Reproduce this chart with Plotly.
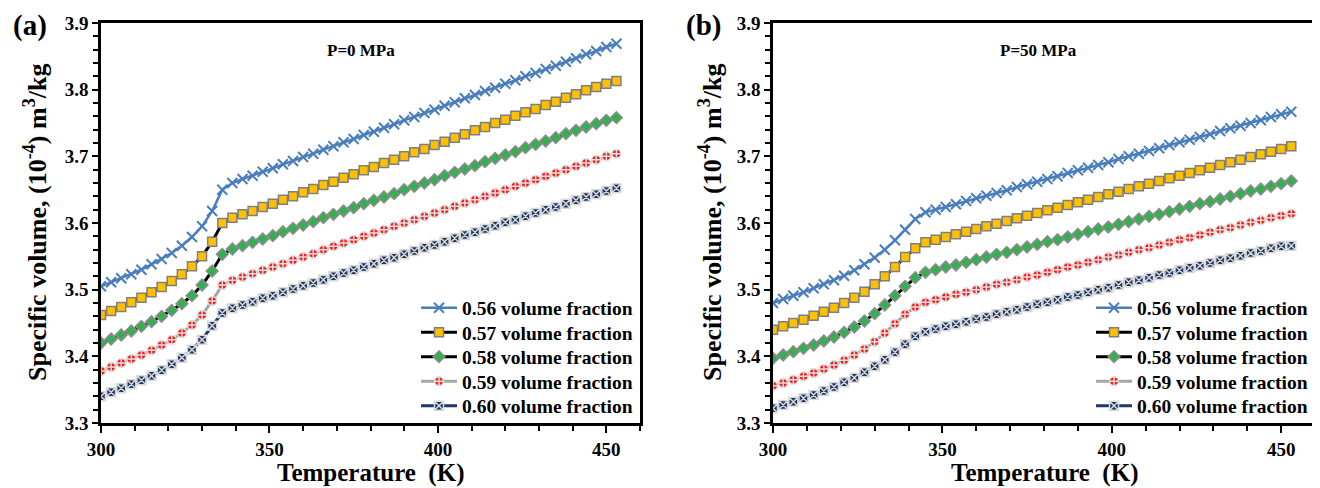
import plotly.graph_objects as go

# ---------------- data ----------------
temperature = [300, 303, 306, 309, 312, 315, 318, 321, 324, 327, 330, 333, 336, 339, 342, 345, 348, 351,
               354, 357, 360, 363, 366, 369, 372, 375, 378, 381, 384, 387, 390, 393, 396, 399, 402, 405,
               408, 411, 414, 417, 420, 423, 426, 429, 432, 435, 438, 441, 444, 447, 450, 453]

series_names = ["0.56 volume fraction", "0.57 volume fraction", "0.58 volume fraction",
                "0.59 volume fraction", "0.60 volume fraction"]

# Panel (a): P = 0 MPa
a_056 = [3.505, 3.511, 3.517, 3.523, 3.530, 3.538, 3.546, 3.555, 3.566, 3.579, 3.595, 3.618, 3.650,
         3.660, 3.666, 3.671, 3.677, 3.682, 3.688, 3.693, 3.699, 3.704, 3.710, 3.715, 3.721, 3.726,
         3.732, 3.737, 3.743, 3.748, 3.754, 3.759, 3.765, 3.770, 3.776, 3.781, 3.787, 3.792, 3.798,
         3.803, 3.809, 3.814, 3.820, 3.825, 3.831, 3.836, 3.842, 3.847, 3.853, 3.858, 3.864, 3.869]
a_057 = [3.462, 3.468, 3.474, 3.481, 3.488, 3.496, 3.504, 3.513, 3.523, 3.535, 3.550, 3.572, 3.600,
         3.608, 3.613, 3.618, 3.624, 3.629, 3.635, 3.640, 3.646, 3.651, 3.657, 3.662, 3.668, 3.673,
         3.679, 3.684, 3.690, 3.695, 3.700, 3.706, 3.711, 3.717, 3.722, 3.728, 3.733, 3.739, 3.744,
         3.750, 3.755, 3.761, 3.766, 3.771, 3.777, 3.782, 3.788, 3.793, 3.799, 3.804, 3.809, 3.813]
a_058 = [3.420, 3.426, 3.432, 3.438, 3.445, 3.452, 3.460, 3.469, 3.479, 3.491, 3.507, 3.528, 3.553,
         3.561, 3.566, 3.571, 3.576, 3.581, 3.587, 3.592, 3.597, 3.602, 3.608, 3.613, 3.618, 3.623,
         3.629, 3.634, 3.639, 3.644, 3.650, 3.655, 3.660, 3.665, 3.671, 3.676, 3.681, 3.686, 3.692,
         3.697, 3.702, 3.707, 3.713, 3.718, 3.723, 3.728, 3.734, 3.739, 3.744, 3.749, 3.754, 3.758]
a_059 = [3.378, 3.384, 3.390, 3.396, 3.402, 3.409, 3.417, 3.425, 3.435, 3.447, 3.462, 3.483, 3.507,
         3.514, 3.519, 3.524, 3.529, 3.534, 3.539, 3.544, 3.549, 3.554, 3.560, 3.565, 3.570, 3.575,
         3.580, 3.585, 3.590, 3.595, 3.600, 3.605, 3.610, 3.615, 3.620, 3.625, 3.630, 3.635, 3.640,
         3.645, 3.650, 3.655, 3.660, 3.665, 3.670, 3.675, 3.680, 3.685, 3.690, 3.695, 3.700, 3.704]
a_060 = [3.340, 3.346, 3.352, 3.358, 3.364, 3.371, 3.379, 3.388, 3.398, 3.410, 3.425, 3.446, 3.465,
         3.472, 3.477, 3.482, 3.487, 3.491, 3.496, 3.501, 3.506, 3.510, 3.515, 3.520, 3.525, 3.529,
         3.534, 3.539, 3.544, 3.548, 3.553, 3.558, 3.563, 3.567, 3.572, 3.577, 3.582, 3.586, 3.591,
         3.596, 3.601, 3.605, 3.610, 3.615, 3.620, 3.624, 3.629, 3.634, 3.639, 3.643, 3.648, 3.652]

# Panel (b): P = 50 MPa
b_056 = [3.480, 3.486, 3.491, 3.496, 3.502, 3.508, 3.514, 3.521, 3.529, 3.538, 3.548, 3.560, 3.574,
         3.590, 3.606, 3.616, 3.620, 3.624, 3.628, 3.633, 3.637, 3.641, 3.645, 3.649, 3.654, 3.658,
         3.662, 3.666, 3.670, 3.675, 3.679, 3.683, 3.687, 3.691, 3.696, 3.700, 3.704, 3.708, 3.712,
         3.717, 3.721, 3.725, 3.729, 3.733, 3.738, 3.742, 3.746, 3.750, 3.754, 3.759, 3.763, 3.767]
b_057 = [3.440, 3.445, 3.450, 3.455, 3.461, 3.467, 3.473, 3.480, 3.488, 3.497, 3.508, 3.520, 3.534,
         3.549, 3.562, 3.571, 3.575, 3.579, 3.583, 3.587, 3.591, 3.595, 3.599, 3.603, 3.607, 3.611,
         3.615, 3.619, 3.623, 3.627, 3.631, 3.635, 3.639, 3.643, 3.647, 3.651, 3.655, 3.659, 3.663,
         3.667, 3.671, 3.675, 3.679, 3.683, 3.687, 3.691, 3.695, 3.699, 3.703, 3.707, 3.711, 3.715]
b_058 = [3.397, 3.402, 3.407, 3.412, 3.417, 3.423, 3.429, 3.436, 3.444, 3.453, 3.464, 3.477, 3.491,
         3.505, 3.518, 3.526, 3.530, 3.534, 3.537, 3.541, 3.545, 3.549, 3.553, 3.556, 3.560, 3.564,
         3.568, 3.572, 3.575, 3.579, 3.583, 3.587, 3.591, 3.594, 3.598, 3.602, 3.606, 3.610, 3.613,
         3.617, 3.621, 3.625, 3.629, 3.632, 3.636, 3.640, 3.644, 3.648, 3.651, 3.655, 3.659, 3.663]
b_059 = [3.356, 3.360, 3.365, 3.370, 3.375, 3.381, 3.387, 3.394, 3.402, 3.411, 3.422, 3.435, 3.449,
         3.463, 3.474, 3.481, 3.485, 3.489, 3.493, 3.496, 3.500, 3.504, 3.508, 3.511, 3.515, 3.519,
         3.522, 3.526, 3.530, 3.534, 3.537, 3.541, 3.545, 3.549, 3.552, 3.556, 3.560, 3.563, 3.567,
         3.571, 3.575, 3.578, 3.582, 3.586, 3.590, 3.593, 3.597, 3.601, 3.604, 3.608, 3.611, 3.614]
b_060 = [3.322, 3.327, 3.332, 3.337, 3.342, 3.348, 3.354, 3.361, 3.368, 3.376, 3.385, 3.395, 3.406,
         3.418, 3.430, 3.437, 3.441, 3.445, 3.448, 3.452, 3.456, 3.459, 3.463, 3.467, 3.470, 3.474,
         3.478, 3.481, 3.485, 3.489, 3.492, 3.496, 3.500, 3.503, 3.507, 3.511, 3.514, 3.518, 3.522,
         3.525, 3.529, 3.533, 3.536, 3.540, 3.544, 3.547, 3.551, 3.555, 3.558, 3.562, 3.565, 3.566]

x_ticks = [300, 350, 400, 450]
y_ticks = [3.3, 3.4, 3.5, 3.6, 3.7, 3.8, 3.9]

panel_a = [a_056, a_057, a_058, a_059, a_060]
panel_b = [b_056, b_057, b_058, b_059, b_060]

# ---------------- styles ----------------
FONT = "Liberation Serif"
styles = [
    dict(line=dict(color="#4A7EBB", width=2.5),
         marker=dict(symbol="x-thin", size=10, color="#4A7EBB", line=dict(color="#4A7EBB", width=2))),
    dict(line=dict(color="#000000", width=3),
         marker=dict(symbol="square", size=9, color="#FFC000", line=dict(color="#7F7F7F", width=1.5))),
    dict(line=dict(color="#000000", width=3),
         marker=dict(symbol="diamond", size=9, color="#33B050", line=dict(color="#8C8C8C", width=1.5))),
    dict(line=dict(color="#A6A6A6", width=3),
         marker=dict(symbol="circle-cross", size=9, color="#FF1A1A", line=dict(color="#E0E0E0", width=1.5))),
    dict(line=dict(color="#1F3864", width=3),
         marker=dict(symbol="square-x", size=9, color="#1F3864", line=dict(color="#D9D9D9", width=1.5))),
]

W, H = 1320, 488
legend_rows = [300, 324.5, 349, 373.5, 398]   # pixel rows of legend entries
legend_right = [630, 1305]                    # pixel right edge of each panel's legend

legend_font = dict(family=FONT, size=19.5, color="black", weight="bold")
legends = {}
fig = go.Figure()
for p, (panel, xa, ya) in enumerate([(panel_a, "x", "y"), (panel_b, "x2", "y2")]):
    for i, (name, ys) in enumerate(zip(series_names, panel)):
        k = p * 5 + i + 1
        key = "legend" if k == 1 else f"legend{k}"
        legends[key] = dict(x=legend_right[p] / W, y=1 - legend_rows[i] / H, xanchor="right",
                            yanchor="middle", font=legend_font, bgcolor="rgba(0,0,0,0)",
                            borderwidth=0, itemwidth=36)
        fig.add_trace(go.Scatter(x=temperature, y=ys, name=name, mode="lines+markers",
                                 xaxis=xa, yaxis=ya, legend=key, **styles[i]))

ydom = [1 - 415 / H, 1 - 15 / H]
xdom_a = [93 / W, 632 / W]
xdom_b = [765 / W, 1307 / W]

tickfont = dict(family=FONT, size=19, color="black", weight="bold")

def xaxis(dom, anchor):
    return dict(domain=dom, anchor=anchor, range=[300, 460], tickvals=x_ticks, automargin=False,
                showline=True, linecolor="black", linewidth=2.5, mirror=True,
                ticks="outside", ticklen=7, tickwidth=2, tickcolor="black",
                minor=dict(dtick=10, tick0=300, ticks="outside", ticklen=5, tickwidth=2, tickcolor="black"),
                showgrid=False, zeroline=False, tickfont=tickfont)

def yaxis(anchor):
    return dict(domain=ydom, anchor=anchor, range=[3.3, 3.9], tickvals=y_ticks, tickformat=".1f",
                automargin=False,
                showline=True, linecolor="black", linewidth=2.5, mirror=True,
                ticks="outside", ticklen=6, tickwidth=2, tickcolor="black",
                minor=dict(dtick=0.02, tick0=3.3, ticks="outside", ticklen=5, tickwidth=2, tickcolor="black"),
                showgrid=False, zeroline=False, tickfont=tickfont)

fig.update_layout(
    template="none",
    width=W, height=H, margin=dict(l=0, r=0, t=0, b=0, autoexpand=False),
    plot_bgcolor="white", paper_bgcolor="white",
    xaxis=xaxis(xdom_a, "y"), yaxis=yaxis("x"),
    xaxis2=xaxis(xdom_b, "y2"), yaxis2=yaxis("x2"),
    showlegend=True,
    **legends,
)

ann_font = dict(family=FONT, color="black")
annotations = [
    dict(text="<b>(a)</b>", x=3 / W, y=1 - 18 / H, xanchor="left", yanchor="middle",
         font=dict(size=29, **ann_font)),
    dict(text="<b>(b)</b>", x=676 / W, y=1 - 18 / H, xanchor="left", yanchor="middle",
         font=dict(size=29, **ann_font)),
    dict(text="<b>P=0 MPa</b>", x=353 / W, y=1 - 42 / H, xanchor="center", yanchor="middle",
         font=dict(size=17, **ann_font)),
    dict(text="<b>P=50 MPa</b>", x=1030 / W, y=1 - 42 / H, xanchor="center", yanchor="middle",
         font=dict(size=17, **ann_font)),
    dict(text="<b>Temperature  (K)</b>", x=(93 + 632) / 2 / W, y=1 - 465 / H, xanchor="center",
         yanchor="middle", font=dict(size=25, **ann_font)),
    dict(text="<b>Temperature  (K)</b>", x=(765 + 1307) / 2 / W, y=1 - 465 / H, xanchor="center",
         yanchor="middle", font=dict(size=25, **ann_font)),
    dict(text="<b>Specific volume, (10<sup>-4</sup>) m<sup>3</sup>/kg</b>", x=27 / W, y=1 - 215 / H,
         xanchor="center", yanchor="middle", textangle=-90, font=dict(size=26, **ann_font)),
    dict(text="<b>Specific volume, (10<sup>-4</sup>) m<sup>3</sup>/kg</b>", x=702 / W, y=1 - 215 / H,
         xanchor="center", yanchor="middle", textangle=-90, font=dict(size=26, **ann_font)),
]
for a in annotations:
    a.update(xref="paper", yref="paper", showarrow=False)
fig.update_layout(annotations=annotations)

fig.write_html("out.html")
